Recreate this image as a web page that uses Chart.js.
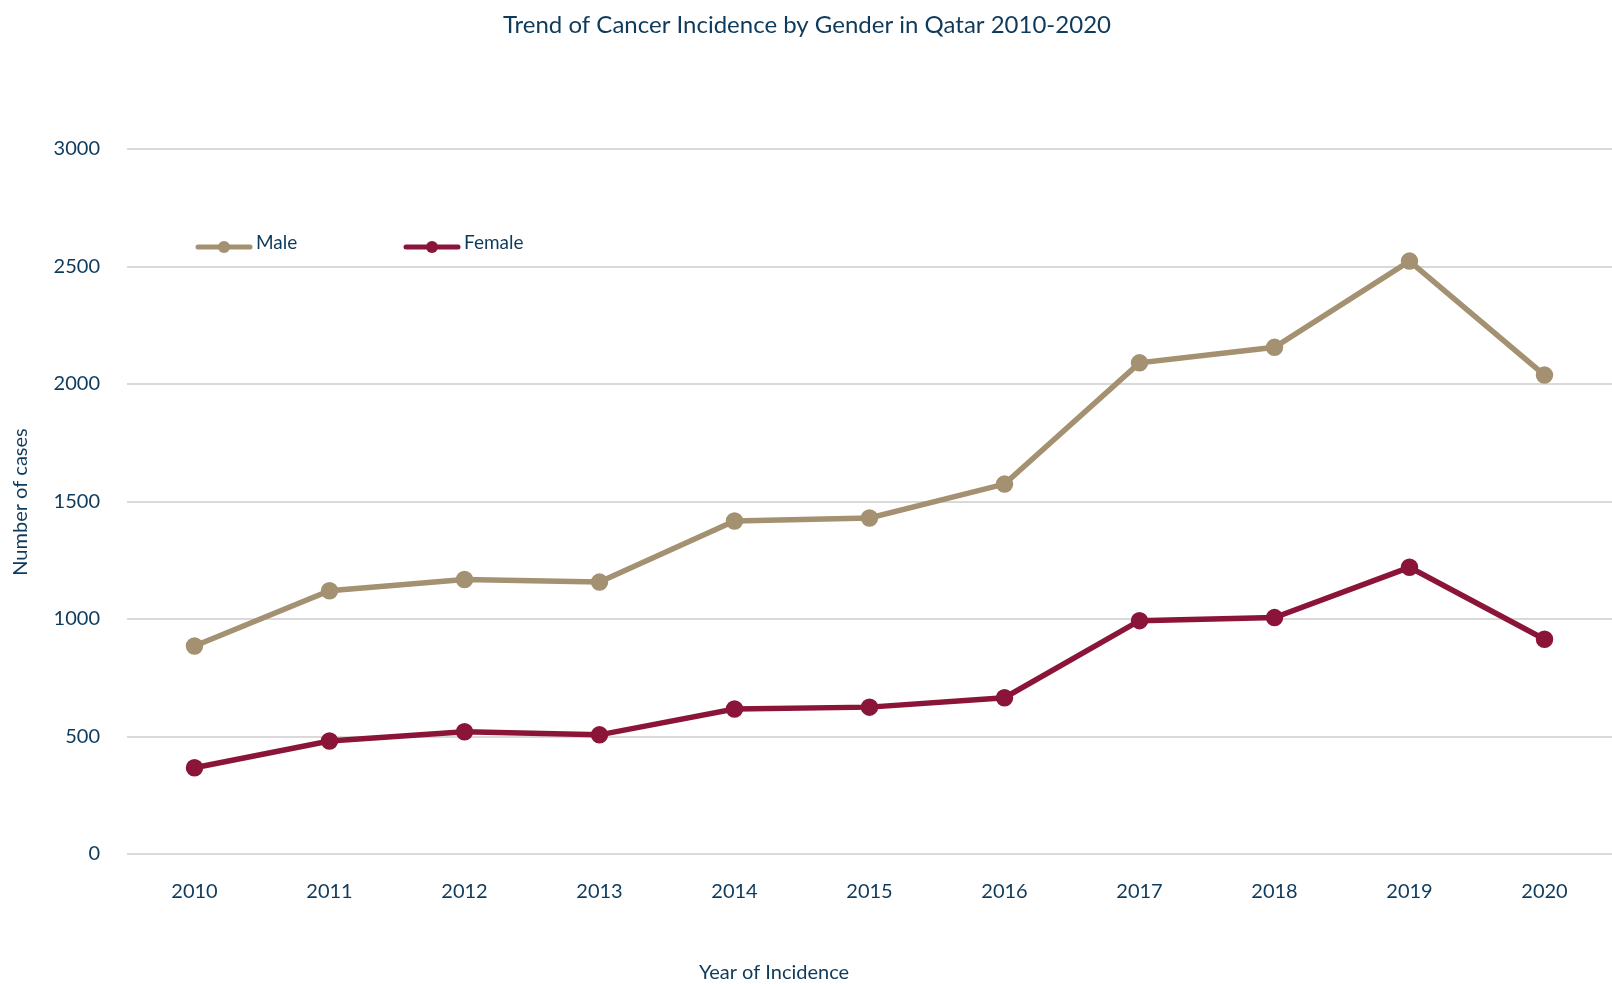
<!DOCTYPE html>
<html>
<head>
<meta charset="utf-8">
<script src="https://cdn.jsdelivr.net/npm/chart.js@4"></script>
<style>
  html, body { margin: 0; padding: 0; background: #fff; }
  #wrap { width: 1612px; height: 984px; }
</style>
</head>
<body>
<div id="wrap"><canvas id="trendChart" width="1612" height="984"></canvas></div>
<script>
// Values
const years = ['2010', '2011', '2012', '2013', '2014', '2015', '2016', '2017', '2018', '2019', '2020'];
const maleCases = [885, 1120, 1168, 1157, 1417, 1430, 1574, 2090, 2156, 2523, 2038];
const femaleCases = [367, 481, 520, 507, 617, 625, 665, 993, 1006, 1220, 914];
const yTicks = [0, 500, 1000, 1500, 2000, 2500, 3000];

const textColor = '#0e3a5c';
const fontFamily = 'Lato, "Noto Sans", sans-serif';

// title, axis titles and the legend are drawn by hand to sit where the original has them
const decorations = {
    id: 'decorations',
    afterDraw(chart) {
        const ctx = chart.ctx;
        ctx.save();
        ctx.fillStyle = textColor;
        ctx.textBaseline = 'middle';

        ctx.font = '24px ' + fontFamily;
        ctx.textAlign = 'center';
        ctx.fillText('Trend of Cancer Incidence by Gender in Qatar 2010-2020', 807, 25);

        ctx.font = '20px ' + fontFamily;
        ctx.fillText('Year of Incidence', 774, 973);

        ctx.save();
        ctx.translate(21, 502);
        ctx.rotate(-Math.PI / 2);
        ctx.fillText('Number of cases', 0, 0);
        ctx.restore();

        // legend
        const items = [
            { x: 198, ds: chart.data.datasets[0] },
            { x: 406, ds: chart.data.datasets[1] }
        ];
        items.forEach(function(item) {
            const y = 247;
            ctx.strokeStyle = item.ds.borderColor;
            ctx.lineWidth = 5;
            ctx.lineCap = 'round';
            ctx.beginPath();
            ctx.moveTo(item.x, y);
            ctx.lineTo(item.x + 52, y);
            ctx.stroke();
            ctx.fillStyle = item.ds.borderColor;
            ctx.beginPath();
            ctx.arc(item.x + 26, y, 6, 0, Math.PI * 2);
            ctx.fill();
            ctx.fillStyle = textColor;
            ctx.textAlign = 'left';
            ctx.font = '19px ' + fontFamily;
            ctx.fillText(item.ds.label, item.x + 58, y - 4);
        });
        ctx.restore();
    }
};

const ctx = document.getElementById('trendChart').getContext('2d');
const trendChart = new Chart(ctx, {
    type: 'line',
    data: {
        labels: years,
        datasets: [{
            label: 'Male',
            data: maleCases,
            borderColor: '#a39171',
            backgroundColor: '#a39171',
            borderWidth: 5.5,
            pointRadius: 6,
            pointHoverRadius: 6,
            tension: 0
        }, {
            label: 'Female',
            data: femaleCases,
            borderColor: '#8a1538',
            backgroundColor: '#8a1538',
            borderWidth: 5.5,
            pointRadius: 6,
            pointHoverRadius: 6,
            tension: 0
        }]
    },
    options: {
        responsive: false,
        animation: false,
        layout: {
            autoPadding: false,
            padding: { top: 149, left: 0, right: 0, bottom: 0 }
        },
        plugins: {
            legend: { display: false },
            title: { display: false },
            tooltip: { enabled: false }
        },
        scales: {
            x: {
                offset: true,
                grid: { display: false },
                border: { display: false },
                ticks: {
                    color: textColor,
                    font: { family: fontFamily, size: 20 },
                    padding: 18,
                    maxRotation: 0
                },
                afterFit: function(scale) {
                    scale.height = 130;
                    scale.paddingLeft = 0;
                    scale.paddingRight = 0;
                }
            },
            y: {
                min: 0,
                max: 3000,
                afterBuildTicks: function(scale) {
                    scale.ticks = yTicks.map(function(v) { return { value: v }; });
                },
                grid: {
                    color: '#d9d9d9',
                    lineWidth: 2,
                    drawTicks: false
                },
                border: { display: false },
                ticks: {
                    color: textColor,
                    font: { family: fontFamily, size: 20 },
                    padding: 27,
                    callback: function(value) { return String(value); }
                },
                afterFit: function(scale) { scale.width = 127; }
            }
        }
    },
    plugins: [decorations]
});
</script>
</body>
</html>
